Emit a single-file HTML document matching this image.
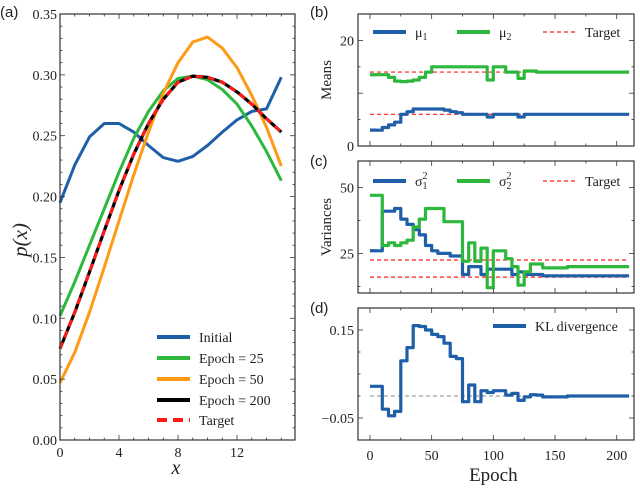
<!DOCTYPE html>
<html><head><meta charset="utf-8"><style>
body{margin:0;background:#fff;width:640px;height:486px;overflow:hidden}
svg{font-family:"Liberation Serif",serif}
.pl{font-family:"Liberation Sans",sans-serif;font-size:15px}
</style></head><body>
<svg id="c" width="640" height="486" xmlns="http://www.w3.org/2000/svg"></svg>
<script>
const xs=[0,1,2,3,4,5,6,7,8,9,10,11,12,13,14,15];
const pInitial=[0.195,0.226,0.249,0.260,0.260,0.253,0.242,0.232,0.229,0.233,0.242,0.253,0.263,0.270,0.272,0.298];
const pEpoch25=[0.102,0.130,0.160,0.190,0.220,0.248,0.270,0.287,0.297,0.299,0.296,0.288,0.276,0.258,0.237,0.213];
const pEpoch50=[0.047,0.072,0.105,0.142,0.180,0.218,0.253,0.285,0.310,0.327,0.331,0.322,0.306,0.283,0.257,0.225];
const pEpoch200=[0.075,0.105,0.138,0.172,0.205,0.235,0.260,0.280,0.294,0.299,0.298,0.294,0.286,0.276,0.264,0.253];
const pTarget=[0.075,0.105,0.138,0.172,0.205,0.235,0.260,0.280,0.294,0.299,0.298,0.294,0.286,0.276,0.264,0.253];
const epochs=[0,5,10,15,20,25,30,35,40,45,50,55,60,65,70,75,80,85,90,95,100,105,110,115,120,125,130,135,140,145,150,155,160,165,170,175,180,185,190,195,200,205,210];
const mu1=[3,3,3.5,4,4.5,6,6.5,7,7,7,7,7,6.8,6.5,6.3,6,6,6,6,5.5,6,6,6,6,5.5,6,6,6,6,6,6,6,6,6,6,6,6,6,6,6,6,6,6];
const mu2=[13.5,13.5,13.5,13,12.3,12.2,12.3,12.5,13,14,15,15,15,15,15,15,15,15,15,12.5,15,15,14,14,12.8,14.2,14.2,14,14,14,14,14,14,14,14,14,14,14,14,14,14,14,14];
const muTargets=[6,14];
const sig1=[26,26,41,41,42,38,36,34,32,28,26,25,25,24,24,17,20,20,17,19,19,19,19,17,18,17,17,17,16.5,16.5,16.5,16.5,16.5,16.5,16.5,16.5,16.5,16.5,16.5,16.5,16.5,16.5,16.5];
const sig2=[47,47,28,29,28,29,30,35,38,42,42,42,37,37,37,22,29,22,27,12,26,26,23,20,13,18,21,21,19.5,19.5,19.5,19.5,20,20,20,20,20,20,20,20,20,20,20];
const sigTargets=[22.5,16];
const kl=[0.022,0.022,-0.03,-0.045,-0.035,0.08,0.11,0.16,0.158,0.15,0.14,0.135,0.12,0.09,0.085,-0.013,0.025,-0.013,0.012,0.008,0.012,0.012,0.002,0.006,-0.01,-0.002,0.003,0.002,-0.002,-0.002,-0.002,-0.002,0,0,0,0,0,0,0,0,0,0,0];
const xTicksA=[0,4,8,12];
const yTicksA=[0,0.05,0.10,0.15,0.20,0.25,0.30,0.35];
const epochTicks=[0,50,100,150,200];

const svg=document.getElementById('c');
const NS='http://www.w3.org/2000/svg';
function mk(tag,at,parent){const e=document.createElementNS(NS,tag);for(const k in at)e.setAttribute(k,at[k]);(parent||svg).appendChild(e);return e;}
function txt(s,x,y,at){const e=mk('text',Object.assign({x:x,y:y},at||{}));e.textContent=s;return e;}
function lin(d0,d1,r0,r1){return v=>r0+(v-d0)/(d1-d0)*(r1-r0);}
const BLUE='#1f5fa8',GREEN='#2db83d',ORANGE='#ff9a16',RED='#ff1a1a';

function frame(L,T,R,B,name){
  const r=mk('rect',{x:L,y:T,width:R-L,height:B-T,fill:'none',stroke:'#333','stroke-width':1.2});
  
}
function xticks(sx,T,B,maj,minStep,d0,d1){
  for(let v=d0;v<=d1+1e-9;v+=minStep){const x=sx(v);const isMaj=maj.some(m=>Math.abs(m-v)<1e-6);const l=isMaj?5:2.5;
    mk('line',{x1:x,x2:x,y1:B,y2:B-l,stroke:'#333','stroke-width':0.8});mk('line',{x1:x,x2:x,y1:T,y2:T+l,stroke:'#333','stroke-width':0.8});}
}
function yticks(sy,L,R,maj,minStep,d0,d1){
  for(let v=d0;v<=d1+1e-9;v+=minStep){const y=sy(v);const isMaj=maj.some(m=>Math.abs(m-v)<1e-6);const l=isMaj?5:2.5;
    mk('line',{x1:L,x2:L+l,y1:y,y2:y,stroke:'#333','stroke-width':0.8});mk('line',{x1:R,x2:R-l,y1:y,y2:y,stroke:'#333','stroke-width':0.8});}
}
function poly(xv,yv,sx,sy,at,name){
  const pts=xv.map((x,i)=>sx(x).toFixed(1)+','+sy(yv[i]).toFixed(1)).join(' ');
  const e=mk('polyline',Object.assign({points:pts,fill:'none','stroke-linejoin':'round'},at));
  return e;
}
function step(xv,yv,sx,sy,color,name){
  let d='M'+sx(xv[0])+','+sy(yv[0]);
  for(let i=1;i<xv.length;i++){d+=' H'+sx(xv[i]).toFixed(1)+' V'+sy(yv[i]).toFixed(1);}
  const e=mk('path',{d:d,fill:'none',stroke:color,'stroke-width':3.2,'stroke-linejoin':'round'});
  
}
function hline(v,sx,sy,color,name,w){
  const e=mk('line',{x1:sx(0),x2:sx(210),y1:sy(v),y2:sy(v),stroke:color,'stroke-width':w||1.2,'stroke-dasharray':'4,3'});
  
}
function legendItem(x,y,color,dash,label,name,w){
  const g=mk('g',{});
  const at={x1:x,x2:x+33,y1:y,y2:y,stroke:color,'stroke-width':w||4};if(dash)at['stroke-dasharray']=dash;
  mk('line',at,g);
  const t=mk('text',{x:x+42,y:y+5,'font-size':14,fill:'#222'},g);t.innerHTML=label;
}

// Panel (a)
{
const L=60,T=14,R=295,B=440;
const sx=lin(0,15.93,L,R),sy=lin(0,0.35,B,T);
poly(xs,pInitial,sx,sy,{stroke:BLUE,'stroke-width':3},'initial-line');
poly(xs,pEpoch25,sx,sy,{stroke:GREEN,'stroke-width':3},'epoch25-line');
poly(xs,pEpoch50,sx,sy,{stroke:ORANGE,'stroke-width':3},'epoch50-line');
poly(xs,pEpoch200,sx,sy,{stroke:'#000','stroke-width':3.2},'epoch200-line');
poly(xs,pTarget,sx,sy,{stroke:RED,'stroke-width':3,'stroke-dasharray':'7,5'},'target-line');
frame(L,T,R,B,'panel-a');
xticks(sx,T,B,xTicksA,1,0,15);
yticks(sy,L,R,yTicksA,0.01,0,0.35);
xTicksA.forEach(v=>txt(String(v),sx(v),457,{'font-size':14,'text-anchor':'middle',fill:'#222'}));
yTicksA.forEach(v=>txt(v.toFixed(2),L-3,sy(v)+5,{'font-size':14,'text-anchor':'end',fill:'#222'}));
txt('x',176,474,{'font-size':20,'font-style':'italic','text-anchor':'middle',fill:'#222'});
const yl=txt('p(x)',0,0,{'font-size':21,'font-style':'italic','text-anchor':'middle',fill:'#222',transform:'translate(27,240) rotate(-90)'});

legendItem(157,337,BLUE,null,'Initial','legend-initial');
legendItem(157,358,GREEN,null,'Epoch = 25','legend-epoch25');
legendItem(157,379,ORANGE,null,'Epoch = 50','legend-epoch50');
legendItem(157,400,'#000',null,'Epoch = 200','legend-epoch200');
legendItem(157,420,RED,'10,6','Target','legend-target');
txt('(a)',0,17,{'class':'pl',fill:'#222'});
}
const EL=358,ER=634;
const ex=lin(-9.7,214,EL,ER);
// Panel (b)
{
const T=14,B=146;const sy=lin(0,25,B,T);
muTargets.forEach((v,i)=>hline(v,ex,sy,RED,'mu-target-'+(i+1)));
step(epochs,mu2,ex,sy,GREEN,'mu2-line');
step(epochs,mu1,ex,sy,BLUE,'mu1-line');
frame(EL,T,ER,B,'panel-b');
xticks(ex,T,B,epochTicks,25,0,200);
yticks(sy,EL,ER,[0,10,20],5,0,25);
[0,20].forEach(v=>txt(String(v),EL-4,sy(v)+5,{'font-size':14,'text-anchor':'end',fill:'#222'}));
txt('Means',0,0,{'font-size':15,'text-anchor':'middle',fill:'#222',transform:'translate(331,80) rotate(-90)'});
legendItem(373,32,BLUE,null,'μ<tspan font-size="10" dy="3">1</tspan>','legend-mu1');
legendItem(457,32,GREEN,null,'μ<tspan font-size="10" dy="3">2</tspan>','legend-mu2');
legendItem(543,32,RED,'4,3','Target','legend-mu-target',1.3);
txt('(b)',310,17,{'class':'pl',fill:'#222'});
}
// Panel (c)
{
const T=161,B=293;const sy=lin(10,60,B,T);
sigTargets.forEach((v,i)=>hline(v,ex,sy,RED,'sigma-target-'+(i+1)));
step(epochs,sig1,ex,sy,BLUE,'sigma1-line');
step(epochs,sig2,ex,sy,GREEN,'sigma2-line');
frame(EL,T,ER,B,'panel-c');
xticks(ex,T,B,epochTicks,25,0,200);
yticks(sy,EL,ER,[25,50],12.5,12.5,50);
[25,50].forEach(v=>txt(String(v),EL-4,sy(v)+5,{'font-size':14,'text-anchor':'end',fill:'#222'}));
txt('Variances',0,0,{'font-size':15,'text-anchor':'middle',fill:'#222',transform:'translate(331,227) rotate(-90)'});
legendItem(373,181,BLUE,null,'σ<tspan font-size="10" dy="3">1</tspan><tspan font-size="10" dx="-5" dy="-10">2</tspan>','legend-sigma1');
legendItem(457,181,GREEN,null,'σ<tspan font-size="10" dy="3">2</tspan><tspan font-size="10" dx="-5" dy="-10">2</tspan>','legend-sigma2');
legendItem(543,181,RED,'4,3','Target','legend-sigma-target',1.3);
txt('(c)',310,166,{'class':'pl',fill:'#222'});
}
// Panel (d)
{
const T=308,B=440;const sy=lin(-0.1,0.2,B,T);
hline(0,ex,sy,'#888','kl-zero-line',1);
step(epochs,kl,ex,sy,BLUE,'kl-line');
frame(EL,T,ER,B,'panel-d');
xticks(ex,T,B,epochTicks,25,0,200);
yticks(sy,EL,ER,[-0.05,0.15],0.05,-0.1,0.2);
[0.15,-0.05].forEach(v=>txt(v<0?'−0.05':'0.15',EL-4,sy(v)+5,{'font-size':14,'text-anchor':'end',fill:'#222'}));
epochTicks.forEach(v=>txt(String(v),ex(v),460,{'font-size':14,'text-anchor':'middle',fill:'#222'}));
txt('Epoch',ex(100),481,{'font-size':19,'text-anchor':'middle',fill:'#222'});
legendItem(493,326,BLUE,null,'KL divergence','legend-kl');
txt('(d)',310,313,{'class':'pl',fill:'#222'});
}
</script>
</body></html>
